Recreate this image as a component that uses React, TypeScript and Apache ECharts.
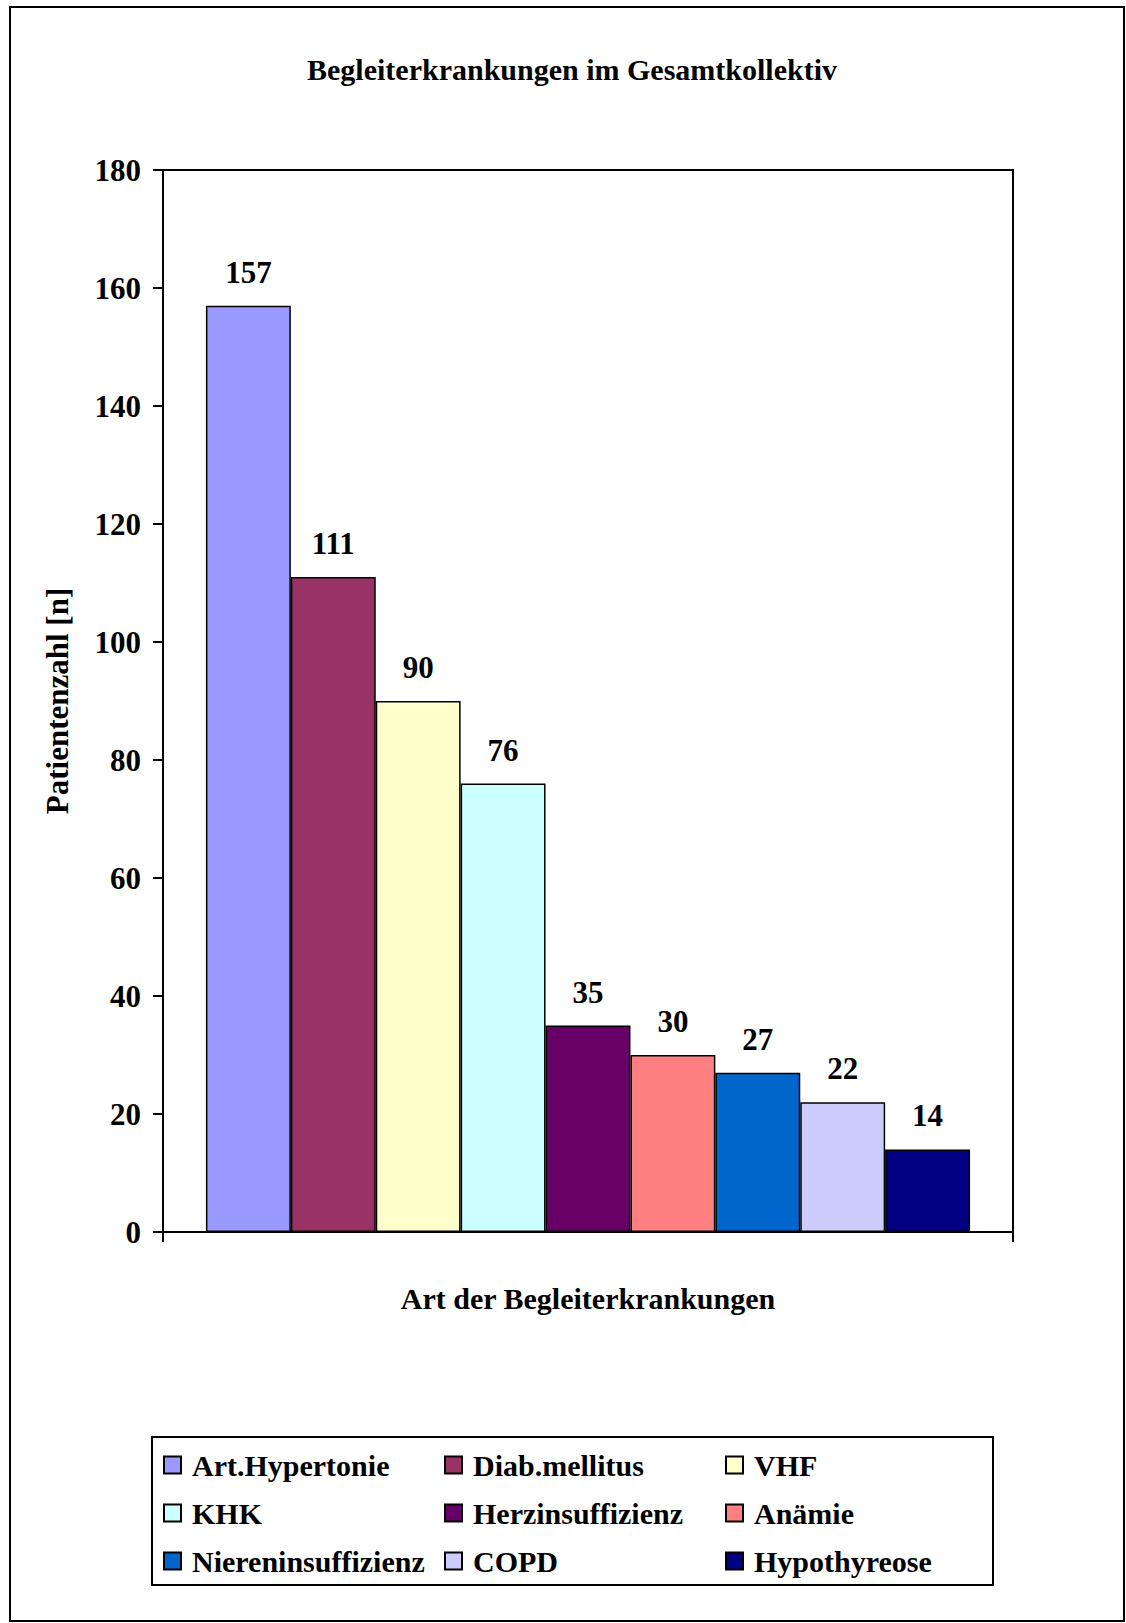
import React, { useEffect, useRef } from "react";
import * as echarts from "echarts";

// Begleiterkrankungen (Anzahl Patienten)
const diseases = [
  "Art.Hypertonie",
  "Diab.mellitus",
  "VHF",
  "KHK",
  "Herzinsuffizienz",
  "Anämie",
  "Niereninsuffizienz",
  "COPD",
  "Hypothyreose",
];
const counts = [157, 111, 90, 76, 35, 30, 27, 22, 14];
const colors = [
  "#9999FF",
  "#993366",
  "#FFFFCC",
  "#CCFFFF",
  "#660066",
  "#FF8080",
  "#0066CC",
  "#CCCCFF",
  "#000080",
];
const yTicks = { min: 0, max: 180, interval: 20 };

const FONT = "Liberation Serif";

export default function App() {
  const ref = useRef<HTMLDivElement>(null);

  useEffect(() => {
    if (!ref.current) return;
    const chart = echarts.init(ref.current, undefined, { renderer: "svg" });

    const series = diseases.map((name, i) => ({
      name,
      type: "bar",
      data: [counts[i]],
      barGap: "0%",
      barCategoryGap: "10.1%",
      itemStyle: {
        color: colors[i],
        borderColor: "#000",
        borderWidth: 1.5,
      },
      label: {
        show: true,
        position: "top",
        distance: 18,
        fontFamily: FONT,
        fontWeight: "bold",
        fontSize: 31,
        color: "#000",
      },
    }));

    chart.setOption({
      animation: false,
      backgroundColor: "#fff",
      textStyle: { fontFamily: FONT, fontWeight: "bold", color: "#000" },
      title: {
        text: "Begleiterkrankungen im Gesamtkollektiv",
        left: 567,
        top: 49,
        textAlign: "center",
        textStyle: {
          fontFamily: FONT,
          fontWeight: "bold",
          fontSize: 30,
          color: "#000",
        },
      },
      graphic: [
        {
          type: "rect",
          shape: { x: 10, y: 7, width: 1114, height: 1614 },
          style: { fill: "none", stroke: "#000", lineWidth: 2 },
          silent: true,
        },
        {
          type: "rect",
          shape: { x: 152, y: 1437, width: 841, height: 148 },
          style: { fill: "none", stroke: "#000", lineWidth: 2 },
          silent: true,
        },
      ],
      grid: {
        left: 163,
        top: 170,
        width: 850,
        height: 1062,
        show: true,
        borderColor: "#000",
        borderWidth: 2,
        backgroundColor: "transparent",
      },
      legend: {
        data: diseases,
        left: 163,
        top: 1447,
        width: 870,
        padding: 0,
        itemGap: 12,
        itemWidth: 17,
        itemHeight: 17,
        icon: "rect",
        textStyle: {
          fontFamily: FONT,
          fontWeight: "bold",
          fontSize: 30,
          color: "#000",
          width: 240,
          lineHeight: 36,
          padding: [0, 0, 0, 6],
        },
      },
      xAxis: {
        type: "category",
        data: [""],
        name: "Art der Begleiterkrankungen",
        nameLocation: "middle",
        nameGap: 51,
        nameTextStyle: {
          fontFamily: FONT,
          fontWeight: "bold",
          fontSize: 30,
          color: "#000",
        },
        axisLine: { lineStyle: { color: "#000", width: 2 } },
        axisTick: { show: true, length: 10, lineStyle: { color: "#000", width: 2 } },
        axisLabel: { show: false },
        splitLine: { show: false },
      },
      yAxis: {
        type: "value",
        min: yTicks.min,
        max: yTicks.max,
        interval: yTicks.interval,
        name: "Patientenzahl [n]",
        nameLocation: "middle",
        nameGap: 90,
        nameTextStyle: {
          fontFamily: FONT,
          fontWeight: "bold",
          fontSize: 31,
          color: "#000",
        },
        axisLine: { show: true, lineStyle: { color: "#000", width: 2 } },
        axisTick: { show: true, length: 10, lineStyle: { color: "#000", width: 2 } },
        axisLabel: {
          margin: 22,
          fontFamily: FONT,
          fontWeight: "bold",
          fontSize: 31,
          color: "#000",
        },
        splitLine: { show: false },
      },
      series,
    });

    return () => chart.dispose();
  }, []);

  return (
    <div
      ref={ref}
      style={{ position: "absolute", left: 0, top: 0, width: 1126, height: 1623 }}
    />
  );
}
